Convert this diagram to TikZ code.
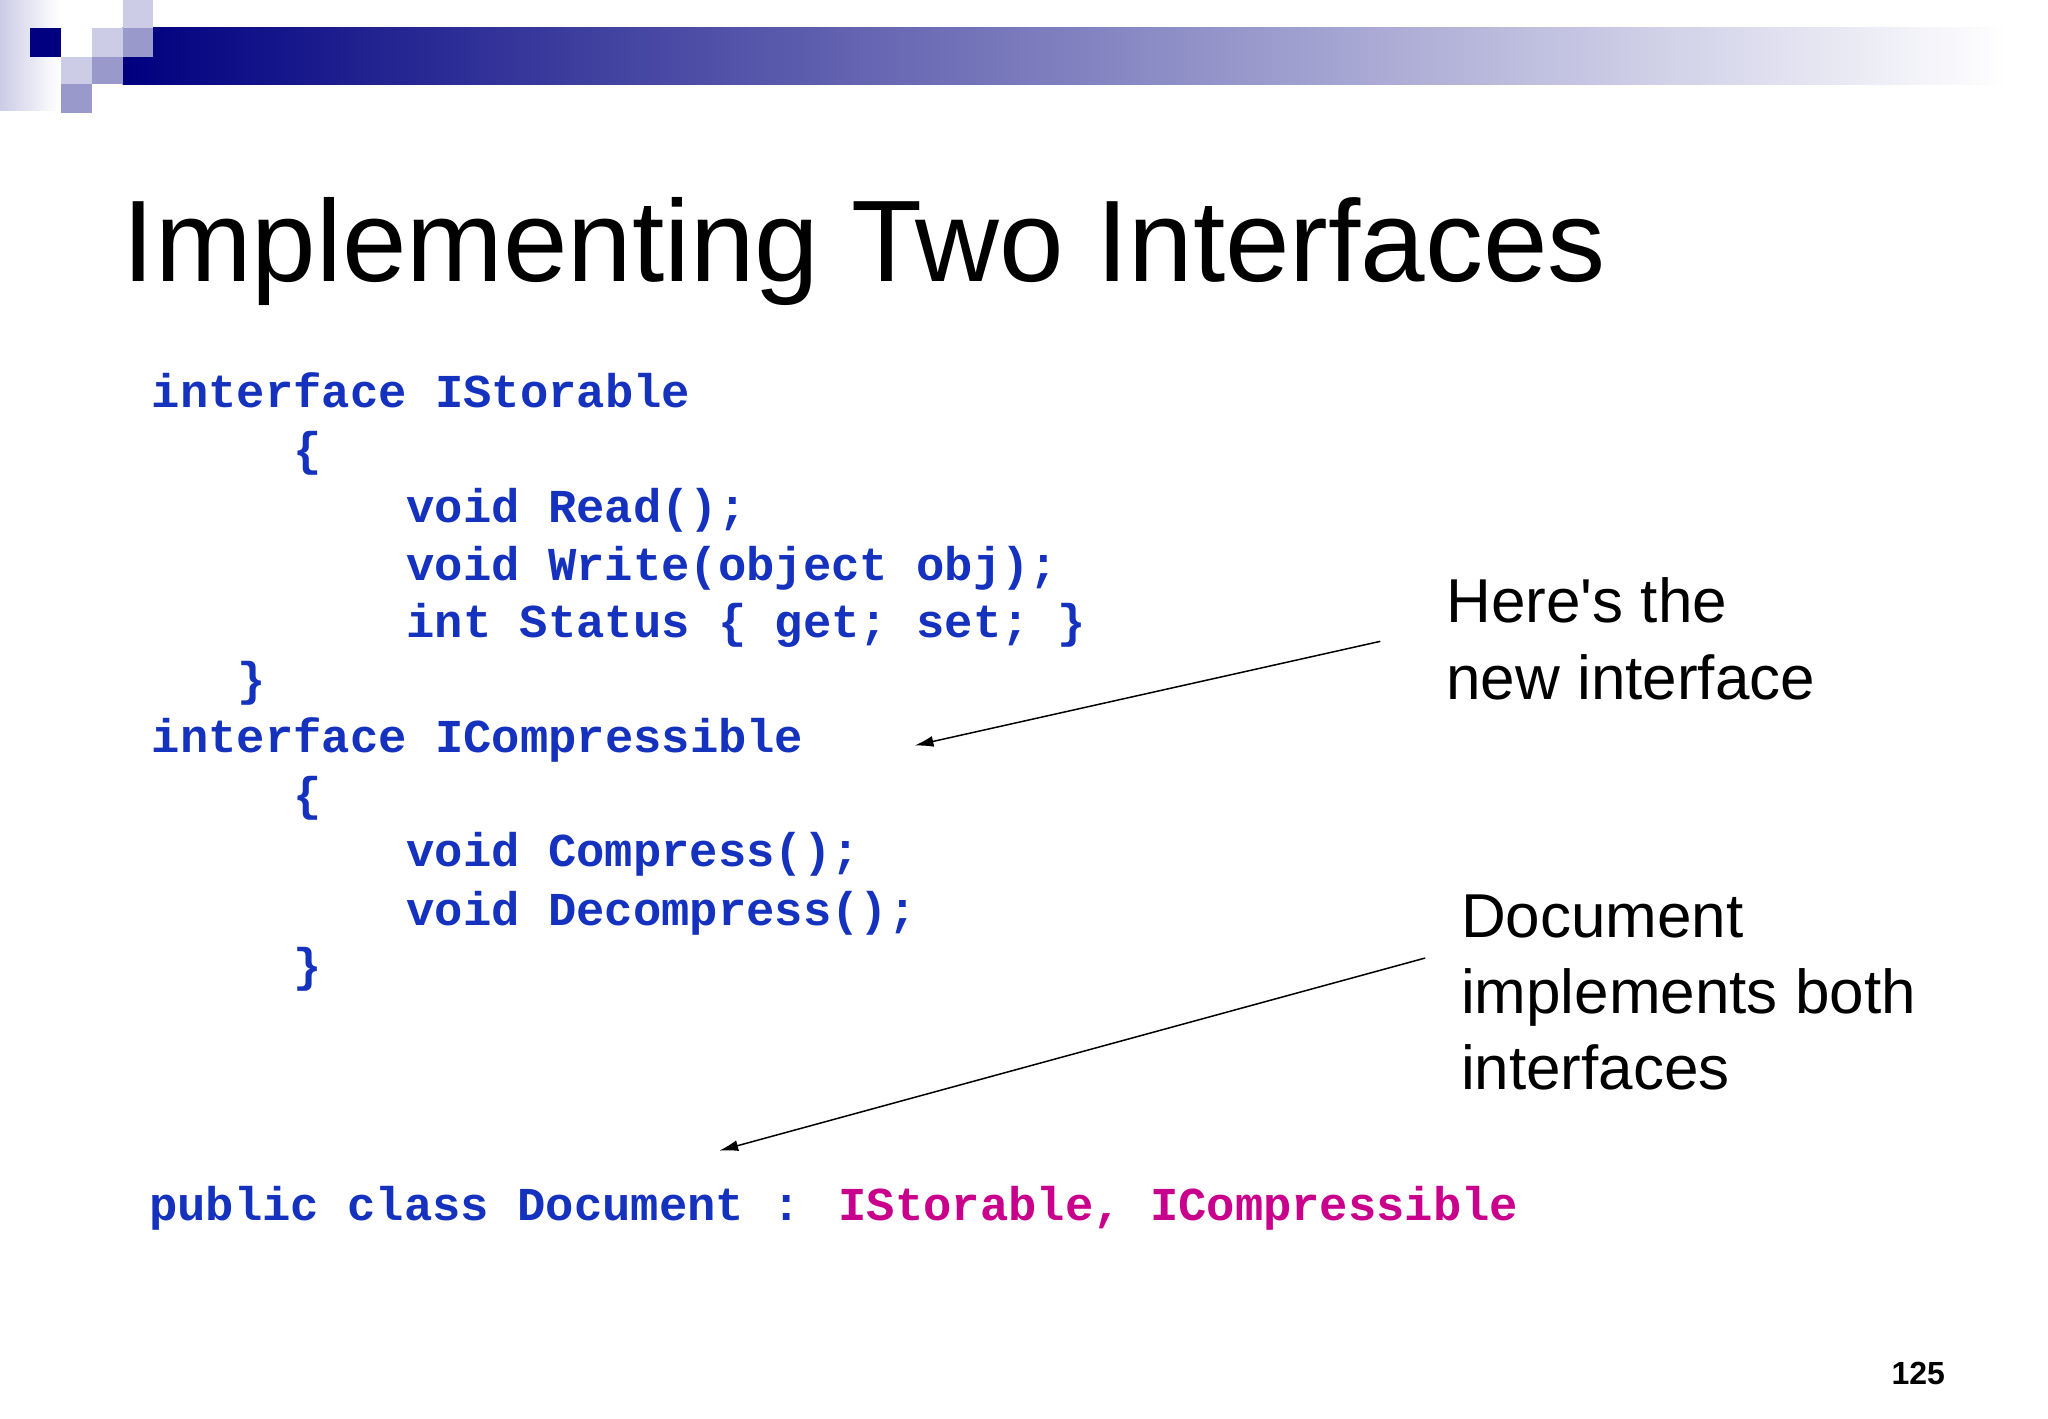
\documentclass[tikz,border=0pt]{standalone}
\usepackage{fontspec}
\setmainfont{Liberation Sans}
\newfontfamily\codefont{Liberation Mono}
\usetikzlibrary{arrows.meta}
\definecolor{codeblue}{RGB}{20,50,190}
\definecolor{codemag}{RGB}{200,0,140}
\definecolor{navy}{RGB}{0,0,128}
\definecolor{lav}{RGB}{204,204,230}
\definecolor{midlav}{RGB}{153,153,204}
\begin{document}
\begin{tikzpicture}[x=1.3196pt,y=-1.3196pt,
  code/.style={anchor=base west,inner sep=0pt,font=\codefont\fontsize{47.2}{50}\selectfont\bfseries,text=codeblue},
  lbl/.style={anchor=base west,inner sep=0pt,font=\fontsize{62}{76.5}\selectfont,align=left},
  arr/.style={-{Latex[length=19pt,width=11pt]},line width=1.5pt}]
\useasboundingbox (0,0) rectangle (1552,1075);
\fill[white] (0,0) rectangle (1552,1075);
% decoration
\shade[left color=lav,right color=white] (0,0) rectangle (45,84);
\shade[left color=navy,right color=white] (93,21) rectangle (1520,64);
\fill[navy] (23,21) rectangle (46,43);
\fill[lav] (70,21) rectangle (93,43);
\fill[lav] (93,0) rectangle (116,21);
\fill[midlav] (93,21) rectangle (116,43);
\fill[lav] (46,43) rectangle (70,64);
\fill[midlav] (70,43) rectangle (93,64);
\fill[midlav] (46,64) rectangle (70,86);
% title
\node[anchor=base west,inner sep=0pt,font=\fontsize{116}{140}\selectfont] (title) at (93,213) {Implementing Two Interfaces};
% code
\node[code] (c1) at (115,309) {interface IStorable};
\node[code] (c2) at (222,353) {\{};
\node[code] (c3) at (308,396) {void Read();};
\node[code] (c4) at (308,440) {void Write(object obj);};
\node[code] (c5) at (308,483) {int Status \{ get; set; \}};
\node[code] (c6) at (180,527) {\}};
\node[code] (c7) at (115,570) {interface ICompressible};
\node[code] (c8) at (222,614) {\{};
\node[code] (c9) at (308,657) {void Compress();};
\node[code] (c10) at (308,701) {void Decompress();};
\node[code] (c11) at (222,744) {\}};
\node[code] (c12) at (113,925) {public class Document : \textcolor{codemag}{IStorable, ICompressible}};
% labels
\node[lbl] (l1) at (1096,530) {Here\textquotesingle s the\\new interface};
\node[lbl] (l2) at (1107,826) {Document\\implements both\\interfaces};
\coordinate (a1s) at (1046,486);
\coordinate (a1e) at (693,565);
\coordinate (a2s) at (1080,726);
\coordinate (a2e) at (545,872);
\draw[arr] (a1s) -- (a1e);
\draw[arr] (a2s) -- (a2e);
\node[anchor=base east,inner sep=0pt,font=\fontsize{32}{36}\selectfont\bfseries] (pg) at (1474,1049) {125};
\end{tikzpicture}
\end{document}
